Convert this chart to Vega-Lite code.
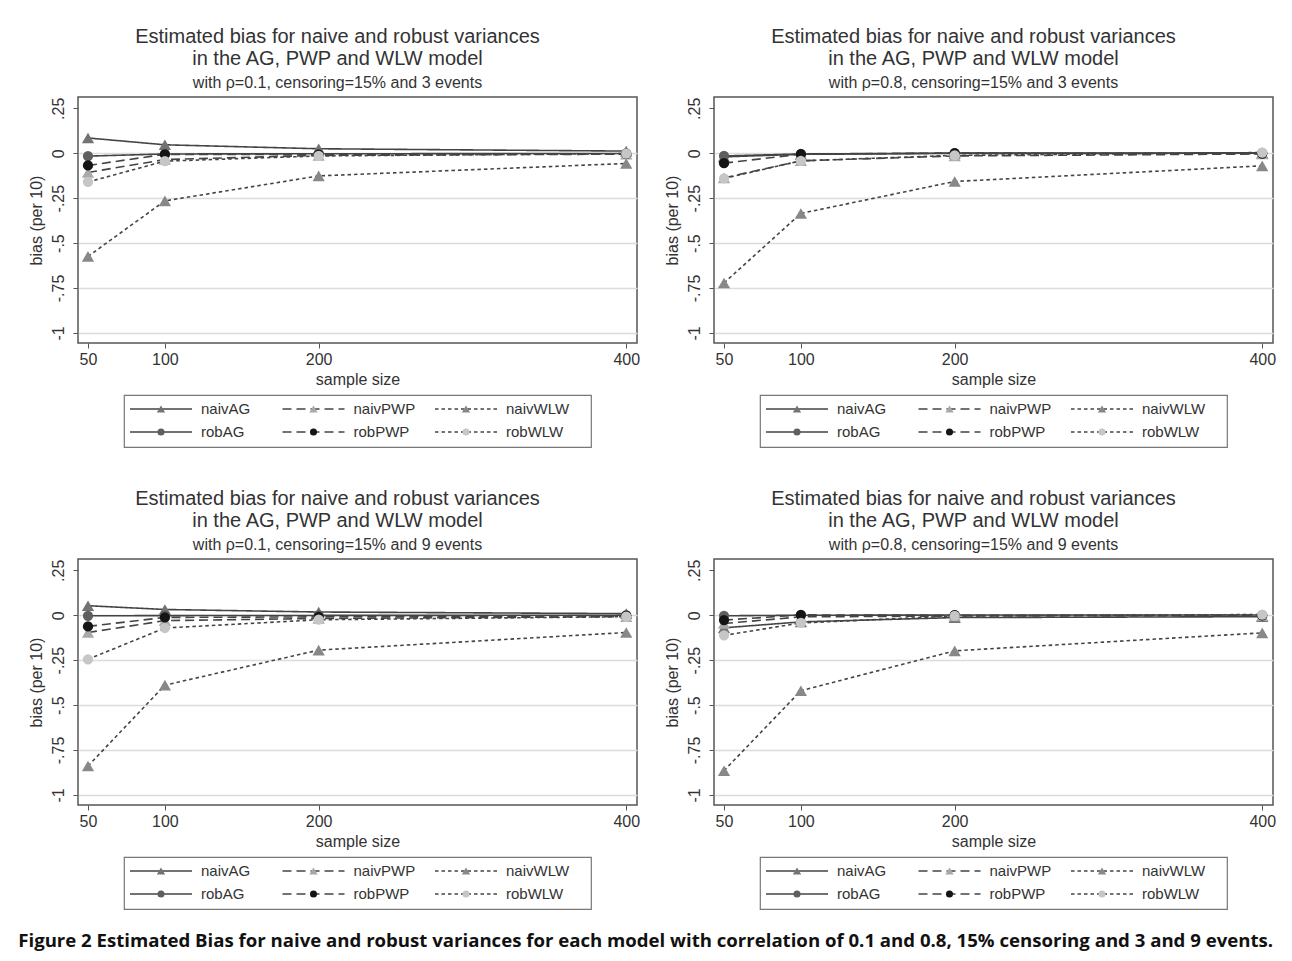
{
  "$schema": "https://vega.github.io/schema/vega-lite/v6.json",
  "background": "white",
  "padding": {"left": 18, "top": 26, "right": 10, "bottom": 8},
  "config": {
    "font": "Liberation Sans",
    "view": {"stroke": "#555", "strokeWidth": 1.5},
    "axis": {"domain": false, "grid": false, "labelColor": "#333", "titleColor": "#333", "tickColor": "#555", "labelFontSize": 16, "titleFontSize": 16, "titleFontWeight": "normal", "labelFont": "Liberation Sans", "titleFont": "Liberation Sans"}
  },
  "datasets": {
    "bias": [
      {"panel":"A","series":"naivAG","model":"AG","type":"naiv","n":50,"bias":0.085},
      {"panel":"A","series":"naivAG","model":"AG","type":"naiv","n":100,"bias":0.047},
      {"panel":"A","series":"naivAG","model":"AG","type":"naiv","n":200,"bias":0.025},
      {"panel":"A","series":"naivAG","model":"AG","type":"naiv","n":400,"bias":0.012},
      {"panel":"A","series":"naivPWP","model":"PWP","type":"naiv","n":50,"bias":-0.107},
      {"panel":"A","series":"naivPWP","model":"PWP","type":"naiv","n":100,"bias":-0.035},
      {"panel":"A","series":"naivPWP","model":"PWP","type":"naiv","n":200,"bias":-0.012},
      {"panel":"A","series":"naivPWP","model":"PWP","type":"naiv","n":400,"bias":-0.005},
      {"panel":"A","series":"naivWLW","model":"WLW","type":"naiv","n":50,"bias":-0.574},
      {"panel":"A","series":"naivWLW","model":"WLW","type":"naiv","n":100,"bias":-0.265},
      {"panel":"A","series":"naivWLW","model":"WLW","type":"naiv","n":200,"bias":-0.126},
      {"panel":"A","series":"naivWLW","model":"WLW","type":"naiv","n":400,"bias":-0.057},
      {"panel":"A","series":"robAG","model":"AG","type":"rob","n":50,"bias":-0.016},
      {"panel":"A","series":"robAG","model":"AG","type":"rob","n":100,"bias":-0.004},
      {"panel":"A","series":"robAG","model":"AG","type":"rob","n":200,"bias":-0.003},
      {"panel":"A","series":"robAG","model":"AG","type":"rob","n":400,"bias":-0.001},
      {"panel":"A","series":"robPWP","model":"PWP","type":"rob","n":50,"bias":-0.068},
      {"panel":"A","series":"robPWP","model":"PWP","type":"rob","n":100,"bias":-0.006},
      {"panel":"A","series":"robPWP","model":"PWP","type":"rob","n":200,"bias":-0.008},
      {"panel":"A","series":"robPWP","model":"PWP","type":"rob","n":400,"bias":-0.003},
      {"panel":"A","series":"robWLW","model":"WLW","type":"rob","n":50,"bias":-0.16},
      {"panel":"A","series":"robWLW","model":"WLW","type":"rob","n":100,"bias":-0.044},
      {"panel":"A","series":"robWLW","model":"WLW","type":"rob","n":200,"bias":-0.015},
      {"panel":"A","series":"robWLW","model":"WLW","type":"rob","n":400,"bias":-0.002},

      {"panel":"B","series":"naivAG","model":"AG","type":"naiv","n":50,"bias":-0.02},
      {"panel":"B","series":"naivAG","model":"AG","type":"naiv","n":100,"bias":-0.006},
      {"panel":"B","series":"naivAG","model":"AG","type":"naiv","n":200,"bias":-0.001},
      {"panel":"B","series":"naivAG","model":"AG","type":"naiv","n":400,"bias":0.0},
      {"panel":"B","series":"naivPWP","model":"PWP","type":"naiv","n":50,"bias":-0.137},
      {"panel":"B","series":"naivPWP","model":"PWP","type":"naiv","n":100,"bias":-0.042},
      {"panel":"B","series":"naivPWP","model":"PWP","type":"naiv","n":200,"bias":-0.015},
      {"panel":"B","series":"naivPWP","model":"PWP","type":"naiv","n":400,"bias":-0.004},
      {"panel":"B","series":"naivWLW","model":"WLW","type":"naiv","n":50,"bias":-0.722},
      {"panel":"B","series":"naivWLW","model":"WLW","type":"naiv","n":100,"bias":-0.335},
      {"panel":"B","series":"naivWLW","model":"WLW","type":"naiv","n":200,"bias":-0.157},
      {"panel":"B","series":"naivWLW","model":"WLW","type":"naiv","n":400,"bias":-0.07},
      {"panel":"B","series":"robAG","model":"AG","type":"rob","n":50,"bias":-0.015},
      {"panel":"B","series":"robAG","model":"AG","type":"rob","n":100,"bias":-0.004},
      {"panel":"B","series":"robAG","model":"AG","type":"rob","n":200,"bias":0.001},
      {"panel":"B","series":"robAG","model":"AG","type":"rob","n":400,"bias":0.002},
      {"panel":"B","series":"robPWP","model":"PWP","type":"rob","n":50,"bias":-0.055},
      {"panel":"B","series":"robPWP","model":"PWP","type":"rob","n":100,"bias":-0.005},
      {"panel":"B","series":"robPWP","model":"PWP","type":"rob","n":200,"bias":0.001},
      {"panel":"B","series":"robPWP","model":"PWP","type":"rob","n":400,"bias":-0.002},
      {"panel":"B","series":"robWLW","model":"WLW","type":"rob","n":50,"bias":-0.14},
      {"panel":"B","series":"robWLW","model":"WLW","type":"rob","n":100,"bias":-0.042},
      {"panel":"B","series":"robWLW","model":"WLW","type":"rob","n":200,"bias":-0.012},
      {"panel":"B","series":"robWLW","model":"WLW","type":"rob","n":400,"bias":0.004},

      {"panel":"C","series":"naivAG","model":"AG","type":"naiv","n":50,"bias":0.053},
      {"panel":"C","series":"naivAG","model":"AG","type":"naiv","n":100,"bias":0.032},
      {"panel":"C","series":"naivAG","model":"AG","type":"naiv","n":200,"bias":0.018},
      {"panel":"C","series":"naivAG","model":"AG","type":"naiv","n":400,"bias":0.009},
      {"panel":"C","series":"naivPWP","model":"PWP","type":"naiv","n":50,"bias":-0.096},
      {"panel":"C","series":"naivPWP","model":"PWP","type":"naiv","n":100,"bias":-0.03},
      {"panel":"C","series":"naivPWP","model":"PWP","type":"naiv","n":200,"bias":-0.018},
      {"panel":"C","series":"naivPWP","model":"PWP","type":"naiv","n":400,"bias":-0.008},
      {"panel":"C","series":"naivWLW","model":"WLW","type":"naiv","n":50,"bias":-0.839},
      {"panel":"C","series":"naivWLW","model":"WLW","type":"naiv","n":100,"bias":-0.389},
      {"panel":"C","series":"naivWLW","model":"WLW","type":"naiv","n":200,"bias":-0.194},
      {"panel":"C","series":"naivWLW","model":"WLW","type":"naiv","n":400,"bias":-0.096},
      {"panel":"C","series":"robAG","model":"AG","type":"rob","n":50,"bias":-0.003},
      {"panel":"C","series":"robAG","model":"AG","type":"rob","n":100,"bias":-0.002},
      {"panel":"C","series":"robAG","model":"AG","type":"rob","n":200,"bias":-0.001},
      {"panel":"C","series":"robAG","model":"AG","type":"rob","n":400,"bias":0.0},
      {"panel":"C","series":"robPWP","model":"PWP","type":"rob","n":50,"bias":-0.062},
      {"panel":"C","series":"robPWP","model":"PWP","type":"rob","n":100,"bias":-0.012},
      {"panel":"C","series":"robPWP","model":"PWP","type":"rob","n":200,"bias":-0.009},
      {"panel":"C","series":"robPWP","model":"PWP","type":"rob","n":400,"bias":-0.003},
      {"panel":"C","series":"robWLW","model":"WLW","type":"rob","n":50,"bias":-0.245},
      {"panel":"C","series":"robWLW","model":"WLW","type":"rob","n":100,"bias":-0.071},
      {"panel":"C","series":"robWLW","model":"WLW","type":"rob","n":200,"bias":-0.025},
      {"panel":"C","series":"robWLW","model":"WLW","type":"rob","n":400,"bias":-0.008},

      {"panel":"D","series":"naivAG","model":"AG","type":"naiv","n":50,"bias":-0.07},
      {"panel":"D","series":"naivAG","model":"AG","type":"naiv","n":100,"bias":-0.037},
      {"panel":"D","series":"naivAG","model":"AG","type":"naiv","n":200,"bias":-0.013},
      {"panel":"D","series":"naivAG","model":"AG","type":"naiv","n":400,"bias":-0.008},
      {"panel":"D","series":"naivPWP","model":"PWP","type":"naiv","n":50,"bias":-0.046},
      {"panel":"D","series":"naivPWP","model":"PWP","type":"naiv","n":100,"bias":-0.009},
      {"panel":"D","series":"naivPWP","model":"PWP","type":"naiv","n":200,"bias":-0.004},
      {"panel":"D","series":"naivPWP","model":"PWP","type":"naiv","n":400,"bias":-0.002},
      {"panel":"D","series":"naivWLW","model":"WLW","type":"naiv","n":50,"bias":-0.865},
      {"panel":"D","series":"naivWLW","model":"WLW","type":"naiv","n":100,"bias":-0.42},
      {"panel":"D","series":"naivWLW","model":"WLW","type":"naiv","n":200,"bias":-0.198},
      {"panel":"D","series":"naivWLW","model":"WLW","type":"naiv","n":400,"bias":-0.098},
      {"panel":"D","series":"robAG","model":"AG","type":"rob","n":50,"bias":-0.003},
      {"panel":"D","series":"robAG","model":"AG","type":"rob","n":100,"bias":0.0},
      {"panel":"D","series":"robAG","model":"AG","type":"rob","n":200,"bias":0.001},
      {"panel":"D","series":"robAG","model":"AG","type":"rob","n":400,"bias":0.001},
      {"panel":"D","series":"robPWP","model":"PWP","type":"rob","n":50,"bias":-0.027},
      {"panel":"D","series":"robPWP","model":"PWP","type":"rob","n":100,"bias":0.002},
      {"panel":"D","series":"robPWP","model":"PWP","type":"rob","n":200,"bias":0.0},
      {"panel":"D","series":"robPWP","model":"PWP","type":"rob","n":400,"bias":-0.001},
      {"panel":"D","series":"robWLW","model":"WLW","type":"rob","n":50,"bias":-0.112},
      {"panel":"D","series":"robWLW","model":"WLW","type":"rob","n":100,"bias":-0.043},
      {"panel":"D","series":"robWLW","model":"WLW","type":"rob","n":200,"bias":-0.004},
      {"panel":"D","series":"robWLW","model":"WLW","type":"rob","n":400,"bias":0.004}
    ],
    "legend": [
      {"series":"naivAG","model":"AG","type":"naiv"},
      {"series":"naivPWP","model":"PWP","type":"naiv"},
      {"series":"naivWLW","model":"WLW","type":"naiv"},
      {"series":"robAG","model":"AG","type":"rob"},
      {"series":"robPWP","model":"PWP","type":"rob"},
      {"series":"robWLW","model":"WLW","type":"rob"}
    ]
  },
  "title": {"text": "Figure 2 Estimated Bias for naive and robust variances for each model with correlation of 0.1 and 0.8, 15% censoring and 3 and 9 events.", "orient": "bottom", "anchor": "start", "fontSize": 18.6, "fontWeight": "bold", "font": "Open Sans", "color": "#111", "offset": 22, "dx": -9},
  "spacing": 40,
  "resolve": {"scale": {"x": "independent", "y": "independent", "color": "independent", "shape": "independent", "strokeDash": "independent", "size": "independent"}},
  "vconcat": [
    {
      "spacing": 22,
      "resolve": {"scale": {"x": "independent", "y": "independent", "color": "independent", "shape": "independent", "strokeDash": "independent", "size": "independent"}},
      "hconcat": [
        {
          "spacing": 52, "bounds": "flush", "center": true,
          "resolve": {"scale": {"x": "independent", "y": "independent", "color": "independent", "shape": "independent", "strokeDash": "independent", "size": "independent"}},
          "vconcat": [
            {
              "width": 559, "height": 246,
              "title": {"text": ["Estimated bias for naive and robust variances", "in the AG, PWP and WLW model"], "subtitle": "with ρ=0.1, censoring=15% and 3 events", "frame": "group", "anchor": "middle", "dx": -20, "fontSize": 20, "fontWeight": "normal", "font": "Liberation Sans", "color": "#333", "lineHeight": 22, "subtitleFontSize": 16, "subtitleFont": "Liberation Sans", "subtitleColor": "#333", "subtitlePadding": 6, "offset": 6},
              "data": {"name": "bias"},
              "transform": [{"filter": "datum.panel == 'A'"}],
              "encoding": {
                "x": {"field": "n", "type": "quantitative", "scale": {"domain": [43.5, 407], "nice": false, "zero": false}, "axis": {"values": [50, 100, 200, 400], "title": "sample size", "tickSize": 5, "labelPadding": 3, "titlePadding": 4, "labelFlush": false}},
                "y": {"field": "bias", "type": "quantitative", "scale": {"domain": [-1.056, 0.313], "nice": false, "zero": false}, "axis": {"values": [0.25, 0, -0.25, -0.5, -0.75, -1], "title": "bias (per 10)", "tickSize": 5, "labelPadding": 7, "titlePadding": 6, "labelAngle": -90, "labelAlign": "center", "labelBaseline": "bottom", "labelExpr": "replace(replace(format(datum.value, '~g'), '\u2212', '-'), '0.', '.')", "grid": true, "gridColor": "#dcdcdc", "gridWidth": 1.5, "gridOpacity": {"condition": {"test": "datum.value > 0.2", "value": 0}, "value": 1}}}
              },
              "layer": [
                {"mark": {"type": "line", "color": "#444", "strokeWidth": 1.6}, "encoding": {"detail": {"field": "series"}, "strokeDash": {"field": "model", "type": "nominal", "scale": {"domain": ["AG", "PWP", "WLW"], "range": [[1, 0], [9, 5], [3.5, 3]]}, "legend": null}}},
                {"mark": {"type": "point", "filled": true, "opacity": 1}, "encoding": {"shape": {"field": "type", "type": "nominal", "scale": {"domain": ["naiv", "rob"], "range": ["triangle-up", "circle"]}, "legend": null}, "size": {"field": "type", "type": "nominal", "scale": {"domain": ["naiv", "rob"], "range": [150, 105]}, "legend": null}, "color": {"field": "series", "type": "nominal", "scale": {"domain": ["naivAG", "naivPWP", "naivWLW", "robAG", "robPWP", "robWLW"], "range": ["#737373", "#a9a9a9", "#888888", "#5f5f5f", "#151515", "#c6c6c6"]}, "legend": null}}}
              ]
            },
            {
              "width": 467, "height": 52,
              "view": {"stroke": "#777", "strokeWidth": 1.2},
              "data": {"name": "legend"},
              "encoding": {
                "x": {"field": "model", "type": "nominal", "scale": {"type": "point", "domain": ["AG", "PWP", "WLW"], "range": [37, 342], "padding": 0}, "axis": null},
                "y": {"field": "type", "type": "nominal", "scale": {"type": "point", "domain": ["naiv", "rob"], "range": [14, 37], "padding": 0}, "axis": null}
              },
              "layer": [
                {"mark": {"type": "rule", "xOffset": -31, "x2Offset": 31, "color": "#444", "strokeWidth": 1.4}, "encoding": {"x2": {"field": "model"}, "strokeDash": {"field": "model", "type": "nominal", "scale": {"domain": ["AG", "PWP", "WLW"], "range": [[1, 0], [9, 5], [3.5, 3]]}, "legend": null}}},
                {"mark": {"type": "point", "filled": true, "opacity": 1}, "encoding": {"shape": {"field": "type", "type": "nominal", "scale": {"domain": ["naiv", "rob"], "range": ["triangle-up", "circle"]}, "legend": null}, "size": {"field": "type", "type": "nominal", "scale": {"domain": ["naiv", "rob"], "range": [70, 50]}, "legend": null}, "color": {"field": "series", "type": "nominal", "scale": {"domain": ["naivAG", "naivPWP", "naivWLW", "robAG", "robPWP", "robWLW"], "range": ["#737373", "#a9a9a9", "#888888", "#5f5f5f", "#151515", "#c6c6c6"]}, "legend": null}}},
                {"mark": {"type": "text", "align": "left", "baseline": "middle", "dx": 40, "fontSize": 15, "color": "#333"}, "encoding": {"text": {"field": "series"}}}
              ]
            }
          ]
        },
        {
          "spacing": 52, "bounds": "flush", "center": true,
          "resolve": {"scale": {"x": "independent", "y": "independent", "color": "independent", "shape": "independent", "strokeDash": "independent", "size": "independent"}},
          "vconcat": [
            {
              "width": 559, "height": 246,
              "title": {"text": ["Estimated bias for naive and robust variances", "in the AG, PWP and WLW model"], "subtitle": "with ρ=0.8, censoring=15% and 3 events", "frame": "group", "anchor": "middle", "dx": -20, "fontSize": 20, "fontWeight": "normal", "font": "Liberation Sans", "color": "#333", "lineHeight": 22, "subtitleFontSize": 16, "subtitleFont": "Liberation Sans", "subtitleColor": "#333", "subtitlePadding": 6, "offset": 6},
              "data": {"name": "bias"},
              "transform": [{"filter": "datum.panel == 'B'"}],
              "encoding": {
                "x": {"field": "n", "type": "quantitative", "scale": {"domain": [43.5, 407], "nice": false, "zero": false}, "axis": {"values": [50, 100, 200, 400], "title": "sample size", "tickSize": 5, "labelPadding": 3, "titlePadding": 4, "labelFlush": false}},
                "y": {"field": "bias", "type": "quantitative", "scale": {"domain": [-1.056, 0.313], "nice": false, "zero": false}, "axis": {"values": [0.25, 0, -0.25, -0.5, -0.75, -1], "title": "bias (per 10)", "tickSize": 5, "labelPadding": 7, "titlePadding": 6, "labelAngle": -90, "labelAlign": "center", "labelBaseline": "bottom", "labelExpr": "replace(replace(format(datum.value, '~g'), '\u2212', '-'), '0.', '.')", "grid": true, "gridColor": "#dcdcdc", "gridWidth": 1.5, "gridOpacity": {"condition": {"test": "datum.value > 0.2", "value": 0}, "value": 1}}}
              },
              "layer": [
                {"mark": {"type": "line", "color": "#444", "strokeWidth": 1.6}, "encoding": {"detail": {"field": "series"}, "strokeDash": {"field": "model", "type": "nominal", "scale": {"domain": ["AG", "PWP", "WLW"], "range": [[1, 0], [9, 5], [3.5, 3]]}, "legend": null}}},
                {"mark": {"type": "point", "filled": true, "opacity": 1}, "encoding": {"shape": {"field": "type", "type": "nominal", "scale": {"domain": ["naiv", "rob"], "range": ["triangle-up", "circle"]}, "legend": null}, "size": {"field": "type", "type": "nominal", "scale": {"domain": ["naiv", "rob"], "range": [150, 105]}, "legend": null}, "color": {"field": "series", "type": "nominal", "scale": {"domain": ["naivAG", "naivPWP", "naivWLW", "robAG", "robPWP", "robWLW"], "range": ["#737373", "#a9a9a9", "#888888", "#5f5f5f", "#151515", "#c6c6c6"]}, "legend": null}}}
              ]
            },
            {
              "width": 467, "height": 52,
              "view": {"stroke": "#777", "strokeWidth": 1.2},
              "data": {"name": "legend"},
              "encoding": {
                "x": {"field": "model", "type": "nominal", "scale": {"type": "point", "domain": ["AG", "PWP", "WLW"], "range": [37, 342], "padding": 0}, "axis": null},
                "y": {"field": "type", "type": "nominal", "scale": {"type": "point", "domain": ["naiv", "rob"], "range": [14, 37], "padding": 0}, "axis": null}
              },
              "layer": [
                {"mark": {"type": "rule", "xOffset": -31, "x2Offset": 31, "color": "#444", "strokeWidth": 1.4}, "encoding": {"x2": {"field": "model"}, "strokeDash": {"field": "model", "type": "nominal", "scale": {"domain": ["AG", "PWP", "WLW"], "range": [[1, 0], [9, 5], [3.5, 3]]}, "legend": null}}},
                {"mark": {"type": "point", "filled": true, "opacity": 1}, "encoding": {"shape": {"field": "type", "type": "nominal", "scale": {"domain": ["naiv", "rob"], "range": ["triangle-up", "circle"]}, "legend": null}, "size": {"field": "type", "type": "nominal", "scale": {"domain": ["naiv", "rob"], "range": [70, 50]}, "legend": null}, "color": {"field": "series", "type": "nominal", "scale": {"domain": ["naivAG", "naivPWP", "naivWLW", "robAG", "robPWP", "robWLW"], "range": ["#737373", "#a9a9a9", "#888888", "#5f5f5f", "#151515", "#c6c6c6"]}, "legend": null}}},
                {"mark": {"type": "text", "align": "left", "baseline": "middle", "dx": 40, "fontSize": 15, "color": "#333"}, "encoding": {"text": {"field": "series"}}}
              ]
            }
          ]
        }
      ]
    },
    {
      "spacing": 22,
      "resolve": {"scale": {"x": "independent", "y": "independent", "color": "independent", "shape": "independent", "strokeDash": "independent", "size": "independent"}},
      "hconcat": [
        {
          "spacing": 52, "bounds": "flush", "center": true,
          "resolve": {"scale": {"x": "independent", "y": "independent", "color": "independent", "shape": "independent", "strokeDash": "independent", "size": "independent"}},
          "vconcat": [
            {
              "width": 559, "height": 246,
              "title": {"text": ["Estimated bias for naive and robust variances", "in the AG, PWP and WLW model"], "subtitle": "with ρ=0.1, censoring=15% and 9 events", "frame": "group", "anchor": "middle", "dx": -20, "fontSize": 20, "fontWeight": "normal", "font": "Liberation Sans", "color": "#333", "lineHeight": 22, "subtitleFontSize": 16, "subtitleFont": "Liberation Sans", "subtitleColor": "#333", "subtitlePadding": 6, "offset": 6},
              "data": {"name": "bias"},
              "transform": [{"filter": "datum.panel == 'C'"}],
              "encoding": {
                "x": {"field": "n", "type": "quantitative", "scale": {"domain": [43.5, 407], "nice": false, "zero": false}, "axis": {"values": [50, 100, 200, 400], "title": "sample size", "tickSize": 5, "labelPadding": 3, "titlePadding": 4, "labelFlush": false}},
                "y": {"field": "bias", "type": "quantitative", "scale": {"domain": [-1.056, 0.313], "nice": false, "zero": false}, "axis": {"values": [0.25, 0, -0.25, -0.5, -0.75, -1], "title": "bias (per 10)", "tickSize": 5, "labelPadding": 7, "titlePadding": 6, "labelAngle": -90, "labelAlign": "center", "labelBaseline": "bottom", "labelExpr": "replace(replace(format(datum.value, '~g'), '\u2212', '-'), '0.', '.')", "grid": true, "gridColor": "#dcdcdc", "gridWidth": 1.5, "gridOpacity": {"condition": {"test": "datum.value > 0.2", "value": 0}, "value": 1}}}
              },
              "layer": [
                {"mark": {"type": "line", "color": "#444", "strokeWidth": 1.6}, "encoding": {"detail": {"field": "series"}, "strokeDash": {"field": "model", "type": "nominal", "scale": {"domain": ["AG", "PWP", "WLW"], "range": [[1, 0], [9, 5], [3.5, 3]]}, "legend": null}}},
                {"mark": {"type": "point", "filled": true, "opacity": 1}, "encoding": {"shape": {"field": "type", "type": "nominal", "scale": {"domain": ["naiv", "rob"], "range": ["triangle-up", "circle"]}, "legend": null}, "size": {"field": "type", "type": "nominal", "scale": {"domain": ["naiv", "rob"], "range": [150, 105]}, "legend": null}, "color": {"field": "series", "type": "nominal", "scale": {"domain": ["naivAG", "naivPWP", "naivWLW", "robAG", "robPWP", "robWLW"], "range": ["#737373", "#a9a9a9", "#888888", "#5f5f5f", "#151515", "#c6c6c6"]}, "legend": null}}}
              ]
            },
            {
              "width": 467, "height": 52,
              "view": {"stroke": "#777", "strokeWidth": 1.2},
              "data": {"name": "legend"},
              "encoding": {
                "x": {"field": "model", "type": "nominal", "scale": {"type": "point", "domain": ["AG", "PWP", "WLW"], "range": [37, 342], "padding": 0}, "axis": null},
                "y": {"field": "type", "type": "nominal", "scale": {"type": "point", "domain": ["naiv", "rob"], "range": [14, 37], "padding": 0}, "axis": null}
              },
              "layer": [
                {"mark": {"type": "rule", "xOffset": -31, "x2Offset": 31, "color": "#444", "strokeWidth": 1.4}, "encoding": {"x2": {"field": "model"}, "strokeDash": {"field": "model", "type": "nominal", "scale": {"domain": ["AG", "PWP", "WLW"], "range": [[1, 0], [9, 5], [3.5, 3]]}, "legend": null}}},
                {"mark": {"type": "point", "filled": true, "opacity": 1}, "encoding": {"shape": {"field": "type", "type": "nominal", "scale": {"domain": ["naiv", "rob"], "range": ["triangle-up", "circle"]}, "legend": null}, "size": {"field": "type", "type": "nominal", "scale": {"domain": ["naiv", "rob"], "range": [70, 50]}, "legend": null}, "color": {"field": "series", "type": "nominal", "scale": {"domain": ["naivAG", "naivPWP", "naivWLW", "robAG", "robPWP", "robWLW"], "range": ["#737373", "#a9a9a9", "#888888", "#5f5f5f", "#151515", "#c6c6c6"]}, "legend": null}}},
                {"mark": {"type": "text", "align": "left", "baseline": "middle", "dx": 40, "fontSize": 15, "color": "#333"}, "encoding": {"text": {"field": "series"}}}
              ]
            }
          ]
        },
        {
          "spacing": 52, "bounds": "flush", "center": true,
          "resolve": {"scale": {"x": "independent", "y": "independent", "color": "independent", "shape": "independent", "strokeDash": "independent", "size": "independent"}},
          "vconcat": [
            {
              "width": 559, "height": 246,
              "title": {"text": ["Estimated bias for naive and robust variances", "in the AG, PWP and WLW model"], "subtitle": "with ρ=0.8, censoring=15% and 9 events", "frame": "group", "anchor": "middle", "dx": -20, "fontSize": 20, "fontWeight": "normal", "font": "Liberation Sans", "color": "#333", "lineHeight": 22, "subtitleFontSize": 16, "subtitleFont": "Liberation Sans", "subtitleColor": "#333", "subtitlePadding": 6, "offset": 6},
              "data": {"name": "bias"},
              "transform": [{"filter": "datum.panel == 'D'"}],
              "encoding": {
                "x": {"field": "n", "type": "quantitative", "scale": {"domain": [43.5, 407], "nice": false, "zero": false}, "axis": {"values": [50, 100, 200, 400], "title": "sample size", "tickSize": 5, "labelPadding": 3, "titlePadding": 4, "labelFlush": false}},
                "y": {"field": "bias", "type": "quantitative", "scale": {"domain": [-1.056, 0.313], "nice": false, "zero": false}, "axis": {"values": [0.25, 0, -0.25, -0.5, -0.75, -1], "title": "bias (per 10)", "tickSize": 5, "labelPadding": 7, "titlePadding": 6, "labelAngle": -90, "labelAlign": "center", "labelBaseline": "bottom", "labelExpr": "replace(replace(format(datum.value, '~g'), '\u2212', '-'), '0.', '.')", "grid": true, "gridColor": "#dcdcdc", "gridWidth": 1.5, "gridOpacity": {"condition": {"test": "datum.value > 0.2", "value": 0}, "value": 1}}}
              },
              "layer": [
                {"mark": {"type": "line", "color": "#444", "strokeWidth": 1.6}, "encoding": {"detail": {"field": "series"}, "strokeDash": {"field": "model", "type": "nominal", "scale": {"domain": ["AG", "PWP", "WLW"], "range": [[1, 0], [9, 5], [3.5, 3]]}, "legend": null}}},
                {"mark": {"type": "point", "filled": true, "opacity": 1}, "encoding": {"shape": {"field": "type", "type": "nominal", "scale": {"domain": ["naiv", "rob"], "range": ["triangle-up", "circle"]}, "legend": null}, "size": {"field": "type", "type": "nominal", "scale": {"domain": ["naiv", "rob"], "range": [150, 105]}, "legend": null}, "color": {"field": "series", "type": "nominal", "scale": {"domain": ["naivAG", "naivPWP", "naivWLW", "robAG", "robPWP", "robWLW"], "range": ["#737373", "#a9a9a9", "#888888", "#5f5f5f", "#151515", "#c6c6c6"]}, "legend": null}}}
              ]
            },
            {
              "width": 467, "height": 52,
              "view": {"stroke": "#777", "strokeWidth": 1.2},
              "data": {"name": "legend"},
              "encoding": {
                "x": {"field": "model", "type": "nominal", "scale": {"type": "point", "domain": ["AG", "PWP", "WLW"], "range": [37, 342], "padding": 0}, "axis": null},
                "y": {"field": "type", "type": "nominal", "scale": {"type": "point", "domain": ["naiv", "rob"], "range": [14, 37], "padding": 0}, "axis": null}
              },
              "layer": [
                {"mark": {"type": "rule", "xOffset": -31, "x2Offset": 31, "color": "#444", "strokeWidth": 1.4}, "encoding": {"x2": {"field": "model"}, "strokeDash": {"field": "model", "type": "nominal", "scale": {"domain": ["AG", "PWP", "WLW"], "range": [[1, 0], [9, 5], [3.5, 3]]}, "legend": null}}},
                {"mark": {"type": "point", "filled": true, "opacity": 1}, "encoding": {"shape": {"field": "type", "type": "nominal", "scale": {"domain": ["naiv", "rob"], "range": ["triangle-up", "circle"]}, "legend": null}, "size": {"field": "type", "type": "nominal", "scale": {"domain": ["naiv", "rob"], "range": [70, 50]}, "legend": null}, "color": {"field": "series", "type": "nominal", "scale": {"domain": ["naivAG", "naivPWP", "naivWLW", "robAG", "robPWP", "robWLW"], "range": ["#737373", "#a9a9a9", "#888888", "#5f5f5f", "#151515", "#c6c6c6"]}, "legend": null}}},
                {"mark": {"type": "text", "align": "left", "baseline": "middle", "dx": 40, "fontSize": 15, "color": "#333"}, "encoding": {"text": {"field": "series"}}}
              ]
            }
          ]
        }
      ]
    }
  ]
}
